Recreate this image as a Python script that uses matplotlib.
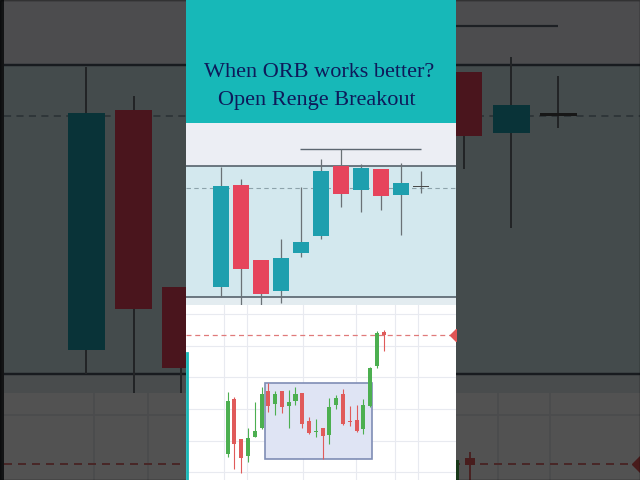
import matplotlib.pyplot as plt
from matplotlib.patches import Rectangle
from matplotlib.lines import Line2D

W, H = 640, 480

# ========== top chart: opening range (zoomed) ==========
top_open  = [106.0, 136.5, 114.0, 104.8, 116.0, 121.2, 142.2, 134.9, 141.3, 133.6, 136.0]
top_high  = [142.0, 138.3, 114.0, 120.3, 136.0, 144.4, 147.2, 142.7, 141.3, 143.2, 140.8]
top_low   = [103.0, 100.5, 100.5, 101.0, 115.0, 120.2, 130.0, 128.5, 129.0, 121.5, 134.2]
top_close = [136.2, 111.2, 103.7, 114.6, 119.4, 140.8, 133.9, 141.6, 133.2, 137.1, 136.0]
range_high = 142.2
range_low = 103.0
mid_level = 135.7
prev_high = 147.2

# ========== bottom chart: breakout ==========
bot_open  = [103.8, 120.2, 108.2, 103.3, 109.0, 111.5, 122.7, 118.8, 122.7, 118.2, 119.7, 122.0,
             113.6, 110.4, 111.6, 109.5, 118.4, 121.7, 113.7, 114.0, 111.4, 118.2, 130.2, 140.3]
bot_high  = [122.5, 120.8, 108.2, 111.7, 119.4, 123.8, 125.0, 122.7, 122.7, 123.0, 123.8, 122.0,
             114.8, 114.2, 111.6, 120.5, 121.5, 123.2, 118.2, 118.5, 120.2, 130.0, 140.6, 141.0]
bot_low   = [103.0, 99.2, 98.2, 101.5, 108.8, 111.2, 116.5, 115.5, 116.0, 111.5, 118.5, 111.5,
             109.8, 109.0, 102.2, 106.8, 117.4, 112.5, 112.2, 110.3, 109.8, 117.8, 129.7, 134.8]
bot_close = [119.8, 106.7, 102.7, 108.5, 110.8, 121.8, 118.2, 121.8, 117.8, 119.5, 121.7, 112.8,
             110.0, 110.8, 109.3, 118.0, 120.7, 112.8, 113.4, 110.7, 118.4, 129.7, 140.0, 139.4]
box_low, box_high = 102.2, 125.2
box_start, box_end = 5.5, 21.35
breakout_level = 139.5


def rect(x0, y0, x1, y1, s=1.0):
    # pixel box -> figure fraction, s>1 gives the blown-up background copy
    x0, x1 = [320 + s * (v - 320) for v in (x0, x1)]
    y0, y1 = [240 + s * (v - 240) for v in (y0, y1)]
    return [x0 / W, 1 - y1 / H, (x1 - x0) / W, (y1 - y0) / H]


def clean(ax):
    ax.tick_params(length=0, labelleft=False, labelbottom=False)
    for sp in ax.spines.values():
        sp.set_visible(False)


def candles(ax, o, h, l, c, up, down, width, lw, minh, wick=None):
    for i in range(len(o)):
        if c[i] > o[i]:
            col = up
        elif c[i] < o[i]:
            col = down
        else:
            col = '#4a4a4a'
        ax.vlines(i, l[i], h[i], color=wick or col, lw=lw, zorder=3)
        body = max(abs(c[i] - o[i]), minh)
        mid = (o[i] + c[i]) / 2
        ax.bar(i, body, width, bottom=mid - body / 2, color=col, lw=0, zorder=4)


def draw_top(ax, s=1.0):
    ax.set_facecolor('#eceef4')
    ax.axhspan(range_low, range_high, color='#d3e8ee', zorder=0)
    ax.axhspan(95, range_low, color='#e3ecf0', zorder=0)
    ax.axhline(range_high, color='#4b5661', lw=1.1 * s, zorder=2)
    ax.axhline(range_low, color='#4b5661', lw=1.1 * s, zorder=2)
    ax.axhline(mid_level, color='#8da3ab', lw=0.8 * s, ls=(0, (4, 3)), zorder=2)
    ax.hlines(prev_high, 3.95, 10.0, color='#5c6670', lw=1.0 * s, zorder=2)
    candles(ax, top_open, top_high, top_low, top_close, '#1e9fae', '#e6445c',
            0.78, 0.9 * s, 0.4, wick='#6a7176')
    ax.set_xlim(-1.75, 11.75)
    ax.set_ylim(100.5, 155.1)
    clean(ax)


def draw_bottom(ax, s=1.0):
    ax.set_facecolor('white')
    ax.set_yticks([145.8, 136.3, 126.8, 117.3, 107.8, 98.3])
    ax.set_xticks([-0.5, 2.85, 11.06, 18.9, 24.7, 28.0])
    ax.grid(color='#e8eaf0', lw=0.8 * s)
    ax.set_axisbelow(True)
    ax.add_patch(Rectangle((box_start, box_low), box_end - box_start, box_high - box_low,
                           fc='#dfe4f4', ec='#7f8db5', lw=1.2 * s, zorder=2))
    ax.axhline(breakout_level, color='#e07a7a', lw=0.9 * s, ls=(0, (4, 3)), zorder=2)
    candles(ax, bot_open, bot_high, bot_low, bot_close, '#4caf50', '#e05a5a',
            0.6, 0.8 * s, 0.35)
    ax.plot(33.66, breakout_level, marker='D', ms=6 * s, color='#e05555', zorder=5)
    ax.set_xlim(-6.14, 33.66)
    ax.set_ylim(96, 148.5)
    clean(ax)


fig = plt.figure(figsize=(6.4, 4.8), dpi=100, facecolor='#3c3f44')

# blurred/darkened background = same panel blown up
S = 2.36
bg_top = fig.add_axes(rect(186, 123, 456, 305, S), zorder=0)
draw_top(bg_top, 1.6)
bg_bot = fig.add_axes(rect(186, 305, 456, 480, S), zorder=0)
draw_bottom(bg_bot, 1.6)

shade = fig.add_axes([0, 0, 1, 1], zorder=1)
shade.set_axis_off()
shade.add_patch(Rectangle((0, 0), 1, 1, transform=shade.transAxes, color='black', alpha=0.68))

# centre panel
title_ax = fig.add_axes(rect(186, 0, 456, 123), zorder=2)
title_ax.set_facecolor('#17b8b8')
clean(title_ax)
title_ax.set_xlim(186, 456)
title_ax.set_ylim(123, 0)
title_ax.text(319, 77, 'When ORB works better?', ha='center', va='baseline',
              fontsize=16, family='Liberation Serif', color='#0e1a5a')
title_ax.text(317, 105, 'Open Renge Breakout', ha='center', va='baseline',
              fontsize=16, family='Liberation Serif', color='#0e1a5a')

top_ax = fig.add_axes(rect(186, 123, 456, 305), zorder=2)
draw_top(top_ax)
bot_ax = fig.add_axes(rect(186, 305, 456, 480), zorder=2)
draw_bottom(bot_ax)

fig.add_artist(Line2D([186.5 / W, 186.5 / W], [0, 1 - 353 / H], color='#17b8b8', lw=2, zorder=3))

fig.savefig('out.png', dpi=100)
